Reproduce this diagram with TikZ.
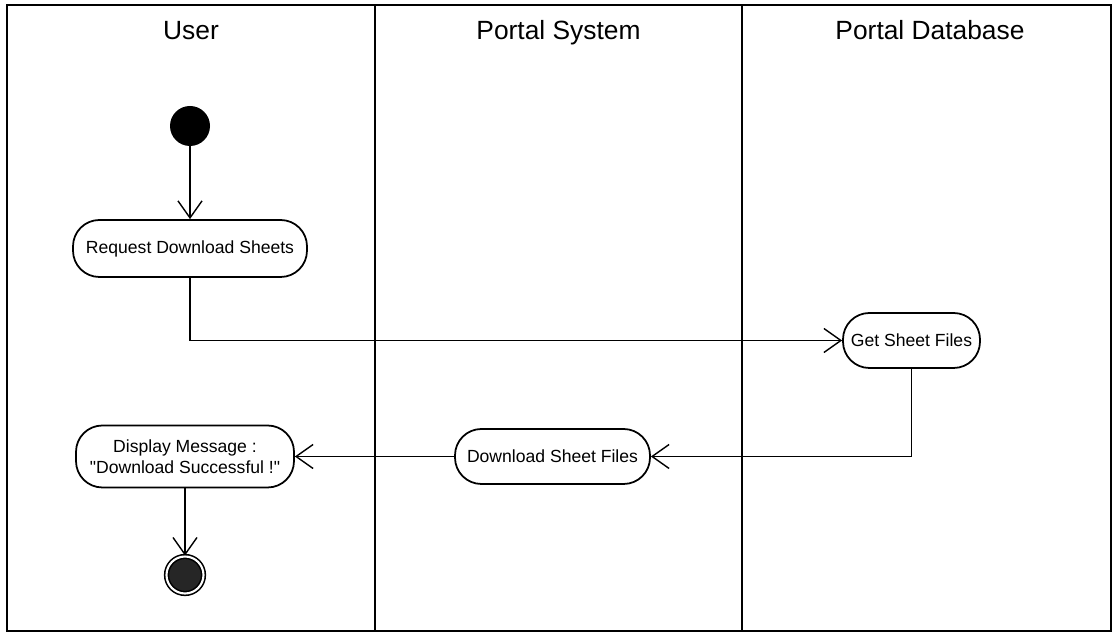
\documentclass[tikz,border=0pt]{standalone}
\usepackage{fontspec}
\setmainfont{Liberation Sans}
\usepackage{tikz}
\usetikzlibrary{arrows.meta,positioning}
\tikzset{act/.style={draw, line width=1pt, rounded corners=15pt,
  inner sep=2pt, align=center, font=\fontsize{10}{12}\selectfont}}
\tikzset{fl/.style={draw, line width=0.8pt,
  -{Straight Barb[length=3.4mm,width=4.8mm,line width=0.8pt]}}}
\tikzset{lane/.style={draw, line width=1.1pt}}

\begin{document}
\begin{tikzpicture}
        \tikzstyle{hd} = [anchor=base, font=\fontsize{15}{18}\selectfont]
        \useasboundingbox (0,0) rectangle (22.28,12.68);
        %% swimlanes
        \draw [lane] (0.14,0.06) rectangle (22.22,12.58);
        \coordinate (l1t) at (7.5,12.58);
        \coordinate (l1b) at (7.5,0.06);
        \coordinate (l2t) at (14.84,12.58);
        \coordinate (l2b) at (14.84,0.06);
        \draw [lane] (l1t) -- (l1b);
        \draw [lane] (l2t) -- (l2b);
        \node (hu) at (3.82,11.88) [hd] {User};
        \node (hs) at (11.17,11.88) [hd] {Portal System};
        \node (hb) at (18.6,11.88) [hd] {Portal Database};
        %% activities
        \node (start) at (3.8,10.16) [circle, fill=black, inner sep=0pt,
          minimum size=8mm] {};
        \node (req) at (3.8,7.71) [act, minimum width=4.68cm,
          minimum height=1.14cm] {Request Download Sheets};
        \node (get) at (18.23,5.87) [act, minimum width=2.74cm,
          minimum height=1.1cm] {Get Sheet Files};
        \node (dl) at (11.05,3.55) [act, minimum width=3.9cm,
          minimum height=1.1cm] {Download Sheet Files};
        \node (disp) at (3.7,3.55) [act, minimum width=4.36cm,
          minimum height=1.24cm]
          {Display Message :\\\textquotedbl Download Successful !\textquotedbl};
        \node (fin) at (3.7,1.18) [circle, draw=black, fill=black!85,
          double=white, double distance=1.2pt, line width=0.9pt,
          inner sep=0pt, minimum size=7.4mm] {};
        %% flows
        \draw [fl] (start) -- (req);
        \draw [fl] (req.south) |- (get.west);
        \draw [fl] (get.south) |- (dl.east);
        \draw [fl] (dl.west) -- (disp.east);
        \draw [fl] (disp.south) -- (fin.north);
\end{tikzpicture}
\end{document}
